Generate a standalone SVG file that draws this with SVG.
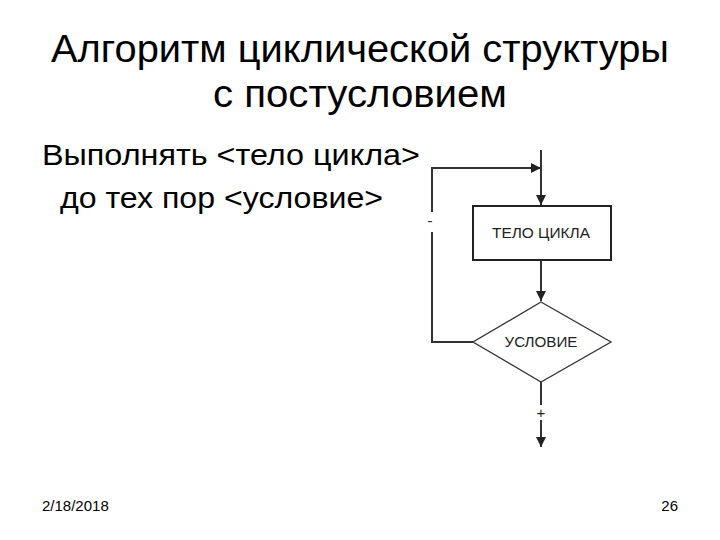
<svg xmlns="http://www.w3.org/2000/svg" width="720" height="540" viewBox="0 0 720 540">
<style>
.t{font-family:"Liberation Sans",Arial,sans-serif;fill:#000}
.ln{stroke:#333;stroke-width:2;fill:none}
.lbl{font-family:"Liberation Sans",Arial,sans-serif;fill:#222;font-size:15px;text-anchor:middle}
</style>
<defs>
<marker id="ah" viewBox="0 0 10 10" refX="10" refY="5" markerWidth="10" markerHeight="10" markerUnits="userSpaceOnUse" orient="auto">
<path d="M0,0 L10,5 L0,10 z" fill="#222"/>
</marker>
</defs>
<rect width="720" height="540" fill="#fff"/>
<g id="title">
<text class="t" x="360" y="62" font-size="39" text-anchor="middle" textLength="618" lengthAdjust="spacingAndGlyphs">Алгоритм циклической структуры</text>
<text class="t" x="360" y="107" font-size="39" text-anchor="middle" textLength="294" lengthAdjust="spacingAndGlyphs">с постусловием</text>
</g>
<g id="body">
<text class="t" x="42" y="165" font-size="29" textLength="378" lengthAdjust="spacingAndGlyphs">Выполнять &lt;тело цикла&gt;</text>
<text class="t" x="60" y="208" font-size="29" textLength="323" lengthAdjust="spacingAndGlyphs">до тех пор &lt;условие&gt;</text>
</g>
<g id="connectors">
<line class="ln" x1="541" y1="150" x2="541" y2="205" marker-end="url(#ah)"/>
<line class="ln" x1="432" y1="168" x2="541" y2="168" marker-end="url(#ah)"/>
<line class="ln" x1="541" y1="260" x2="541" y2="301" marker-end="url(#ah)"/>
<polyline class="ln" points="473,342 432,342 432,232"/>
<line class="ln" x1="432" y1="212" x2="432" y2="167"/>
<line class="ln" x1="541" y1="382" x2="541" y2="405"/>
<line class="ln" x1="541" y1="420" x2="541" y2="447" marker-end="url(#ah)"/>
<text class="lbl" x="430" y="226">-</text>
<text class="lbl" x="541" y="418">+</text>
</g>
<g id="body-node">
<rect x="473" y="206" width="138" height="54" fill="#fff" stroke="#222" stroke-width="2"/>
<text class="lbl" x="541" y="238" textLength="98" lengthAdjust="spacingAndGlyphs">ТЕЛО ЦИКЛА</text>
</g>
<g id="cond-node">
<polygon points="541,302 611,342 541,382 473,342" fill="#fff" stroke="#333" stroke-width="1.3"/>
<text class="lbl" x="541" y="347" textLength="73" lengthAdjust="spacingAndGlyphs">УСЛОВИЕ</text>
</g>
<g id="footer">
<text class="t" x="42" y="511" font-size="15">2/18/2018</text>
<text class="t" x="678" y="511" font-size="15" text-anchor="end">26</text>
</g>
</svg>
